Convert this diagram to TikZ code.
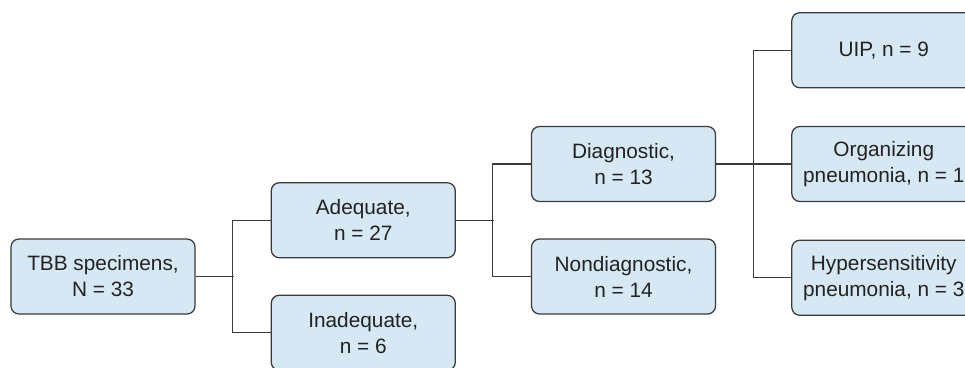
\documentclass[tikz,border=0pt]{standalone}
\usepackage{fontspec}
\setmainfont{Liberation Sans}
\usepackage{tikz}
\usetikzlibrary{positioning}
\definecolor{boxblue}{HTML}{D6E8F4}
\definecolor{edgegray}{HTML}{3A3A3A}
\definecolor{textgray}{HTML}{222222}

\begin{document}
\begin{tikzpicture}[
  node distance=1.875cm,
  box/.style={rectangle, draw=edgegray, line width=0.9pt, fill=boxblue, text=textgray, minimum width=4.6cm, minimum height=1.875cm, align=center, rounded corners=0.2cm, font=\fontsize{14.8}{18.5}\selectfont},
  link/.style={draw=edgegray, line width=0.8pt}
]
  \useasboundingbox (0,0) rectangle (24.125,-9.175);
  \node[box] (tbb) at (2.575,-6.9125) {TBB specimens,\\N = 33};
  \node[box, right=of tbb, yshift=1.40625cm] (adeq) {Adequate,\\n = 27};
  \node[box, right=of tbb, yshift=-1.40625cm] (inadeq) {Inadequate,\\n = 6};
  \node[box, right=of adeq, yshift=1.40625cm] (diag) {Diagnostic,\\n = 13};
  \node[box, right=of adeq, yshift=-1.40625cm] (nondiag) {Nondiagnostic,\\n = 14};
  \node[box, right=of diag] (organ) {Organizing\\pneumonia, n = 1};
  \node[box, above=0.9375cm of organ] (uip) {UIP, n = 9};
  \node[box, below=0.9375cm of organ] (hyper) {Hypersensitivity\\pneumonia, n = 3};
  % elbow connectors
  \draw[link] (tbb.east) -- ++(0.95cm,0);
  \draw[link] (adeq.west) -- ++(-0.95cm,0) |- (inadeq.west);
  \draw[link] (adeq.east) -- ++(0.95cm,0);
  \draw[link] (diag.west) -- ++(-0.95cm,0) |- (nondiag.west);
  \draw[link] (diag.east) -- (organ.west);
  \draw[link] (uip.west) -- ++(-0.95cm,0) |- (hyper.west);
\end{tikzpicture}
\end{document}
